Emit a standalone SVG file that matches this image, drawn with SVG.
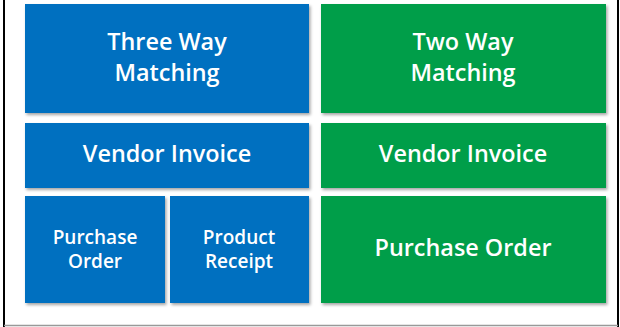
<svg xmlns="http://www.w3.org/2000/svg" width="620" height="327" viewBox="0 0 620 327">
<defs>
<filter id="sh" x="-5%" y="-5%" width="112%" height="115%">
<feDropShadow dx="1.5" dy="2" stdDeviation="1.5" flood-color="#000" flood-opacity="0.35"/>
</filter>
</defs>
<style>
.b{fill:#0070C0;filter:url(#sh)}
.g{fill:#009E49;filter:url(#sh)}
text{font-family:"Open Sans","Noto Sans",sans-serif;font-weight:600;fill:#fff;text-anchor:middle}
.l{font-size:23.4px}
.s{font-size:19px}
</style>
<rect x="0" y="0" width="620" height="327" fill="#fff"/>
<g id="frame">
<line x1="4" y1="0" x2="4" y2="327" stroke="#000" stroke-width="2"/>
<line x1="618" y1="0" x2="618" y2="327" stroke="#000" stroke-width="2"/>
<line x1="4" y1="325.5" x2="618" y2="325.5" stroke="#999" stroke-width="1.5"/>
</g>
<g id="three-way">
<rect class="b" x="25" y="4" width="284" height="109"/>
<text class="l" x="167" y="50">Three Way<tspan x="167" y="81">Matching</tspan></text>
</g>
<g id="two-way">
<rect class="g" x="321" y="4" width="285" height="109"/>
<text class="l" x="463" y="50">Two Way<tspan x="463" y="81">Matching</tspan></text>
</g>
<g id="vendor-invoice-3">
<rect class="b" x="25" y="123" width="284" height="65"/>
<text class="l" x="167" y="162">Vendor Invoice</text>
</g>
<g id="vendor-invoice-2">
<rect class="g" x="321" y="123" width="285" height="65"/>
<text class="l" x="463" y="162">Vendor Invoice</text>
</g>
<g id="purchase-order-3">
<rect class="b" x="25" y="196" width="140" height="107"/>
<text class="s" x="95" y="244">Purchase<tspan x="95" y="267.5">Order</tspan></text>
</g>
<g id="product-receipt">
<rect class="b" x="170" y="196" width="139" height="107"/>
<text class="s" x="239" y="244">Product<tspan x="239" y="267.5">Receipt</tspan></text>
</g>
<g id="purchase-order-2">
<rect class="g" x="321" y="196" width="285" height="107"/>
<text class="l" x="463" y="256">Purchase Order</text>
</g>
<g id="connectors"></g>
</svg>
